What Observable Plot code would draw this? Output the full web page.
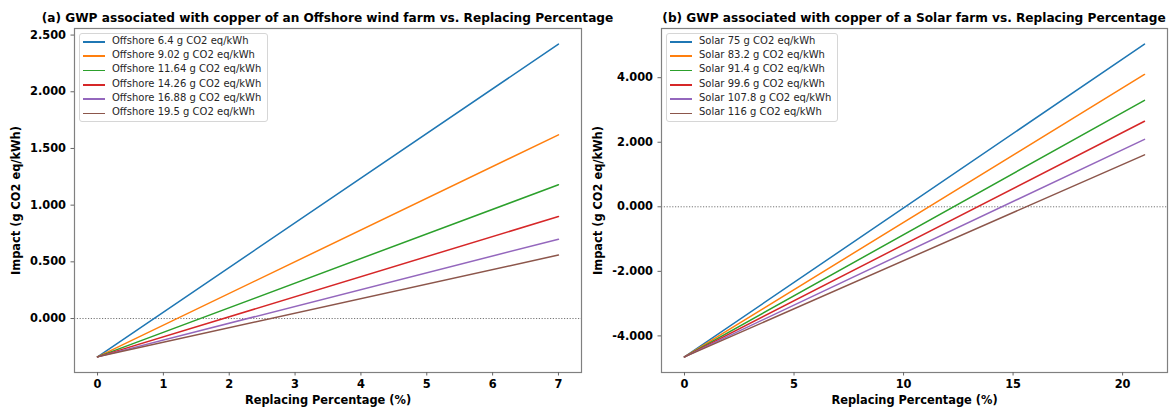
<!DOCTYPE html>
<html><head><meta charset="utf-8">
<script src="https://cdn.jsdelivr.net/npm/d3@7"></script>
<script src="https://cdn.jsdelivr.net/npm/@observablehq/plot@0.6"></script>
<style>
body{margin:0;background:#fff;font-family:"DejaVu Sans",sans-serif}
#wrap{position:relative;width:1172px;height:409px;overflow:hidden;background:#fff}
.panel{position:absolute;top:0}
.title{position:absolute;top:10px;font:bold 12.15px "DejaVu Sans",sans-serif;white-space:nowrap;transform:translateX(-50%);color:#000;line-height:17px}
.legend{position:absolute;top:33px;height:89px;border:1px solid #d6d6d6;border-radius:3px;background:rgba(255,255,255,0.85);box-sizing:border-box}
.row{position:absolute;left:0;height:14.3px;line-height:14.3px;font:10px "DejaVu Sans",sans-serif;color:#262626;white-space:nowrap}
.sw{position:absolute;top:6.5px;height:1.6px}
</style></head>
<body><div id="wrap"></div>
<script>
// ---- data ----
const tab10 = ["#1f77b4", "#ff7f0e", "#2ca02c", "#d62728", "#9467bd", "#8c564b"];
const offshoreLabels = ["Offshore 6.4 g CO2 eq/kWh", "Offshore 9.02 g CO2 eq/kWh", "Offshore 11.64 g CO2 eq/kWh",
  "Offshore 14.26 g CO2 eq/kWh", "Offshore 16.88 g CO2 eq/kWh", "Offshore 19.5 g CO2 eq/kWh"];
const offshoreX = [0, 7];
const offshoreStart = [-0.338, -0.338, -0.338, -0.338, -0.338, -0.338];
const offshoreEnd = [2.42, 1.62, 1.18, 0.90, 0.70, 0.56];
const offshoreYTicks = [0, 0.5, 1, 1.5, 2, 2.5];
const offshoreXTicks = [0, 1, 2, 3, 4, 5, 6, 7];

const solarLabels = ["Solar 75 g CO2 eq/kWh", "Solar 83.2 g CO2 eq/kWh", "Solar 91.4 g CO2 eq/kWh",
  "Solar 99.6 g CO2 eq/kWh", "Solar 107.8 g CO2 eq/kWh", "Solar 116 g CO2 eq/kWh"];
const solarX = [0, 21];
const solarStart = [-4.65, -4.65, -4.65, -4.65, -4.65, -4.65];
const solarEnd = [5.04, 4.10, 3.30, 2.65, 2.09, 1.61];
const solarYTicks = [-4, -2, 0, 2, 4];
const solarXTicks = [0, 5, 10, 15, 20];

const titleA = "(a) GWP associated with copper of an Offshore wind farm vs. Replacing Percentage";
const titleB = "(b) GWP associated with copper of a Solar farm vs. Replacing Percentage";
const xLabel = "Replacing Percentage (%)";
const yLabel = "Impact (g CO2 eq/kWh)";

function rowsOf(labels, xs, starts, ends) {
  const out = [];
  labels.forEach((s, i) => { out.push({series: s, x: xs[0], y: starts[i]}); out.push({series: s, x: xs[1], y: ends[i]}); });
  return out;
}

function panel({labels, xs, starts, ends, xTicks, yTicks, xDomain, yDomain, ml, yLabelDx}) {
  const f3 = d3.format(".3f");
  const fmt = d => f3(d).replace("\u2212", "-");
  return Plot.plot({
    width: 586, height: 409,
    marginLeft: ml, marginRight: 5, marginTop: 28, marginBottom: 37,
    x: {domain: xDomain},
    y: {domain: yDomain},
    color: {domain: labels, range: tab10},
    style: {fontFamily: "DejaVu Sans, sans-serif", fontSize: "11.4px", fontWeight: "bold", color: "#000", background: "transparent", overflow: "visible"},
    marks: [
      Plot.ruleY([0], {stroke: "#666", strokeWidth: 0.9, strokeDasharray: "1.2,1.6"}),
      Plot.line(rowsOf(labels, xs, starts, ends), {x: "x", y: "y", z: "series", stroke: "series", strokeWidth: 1.5}),
      Plot.frame({stroke: "#808080", strokeWidth: 1.2}),
      Plot.axisX({ticks: xTicks, tickFormat: d3.format("d"), tickSize: 3.5, tickPadding: 4, stroke: "#666", label: null}),
      Plot.axisY({ticks: yTicks, tickFormat: fmt, tickSize: 3.5, tickPadding: 5, stroke: "#666", label: null}),
      Plot.text([xLabel], {frameAnchor: "bottom", dy: 28, textAnchor: "middle", lineAnchor: "middle", fontWeight: "bold", fontSize: 11.4}),
      Plot.text([yLabel], {frameAnchor: "left", dx: yLabelDx, rotate: -90, textAnchor: "middle", lineAnchor: "middle", fontWeight: "bold", fontSize: 11.4})
    ]
  });
}

const wrap = document.getElementById("wrap");

const left = panel({labels: offshoreLabels, xs: offshoreX, starts: offshoreStart, ends: offshoreEnd,
  xTicks: offshoreXTicks, yTicks: offshoreYTicks, xDomain: [-0.35, 7.35], yDomain: [-0.476, 2.558], ml: 74, yLabelDx: -58});
left.classList.add("panel"); left.style.left = "0px";
wrap.appendChild(left);

const right = panel({labels: solarLabels, xs: solarX, starts: solarStart, ends: solarEnd,
  xTicks: solarXTicks, yTicks: solarYTicks, xDomain: [-1.05, 22.05], yDomain: [-5.134, 5.524], ml: 75, yLabelDx: -63});
right.classList.add("panel"); right.style.left = "586px";
wrap.appendChild(right);

function addTitle(text, cx) {
  const d = document.createElement("div");
  d.className = "title"; d.textContent = text; d.style.left = cx + "px";
  wrap.appendChild(d);
}
addTitle(titleA, 327.5);
addTitle(titleB, 914);

function addLegend(labels, x, w) {
  const box = document.createElement("div");
  box.className = "legend"; box.style.left = x + "px"; box.style.width = w + "px";
  labels.forEach((lab, i) => {
    const r = document.createElement("div");
    r.className = "row"; r.style.top = (0.6 + i * 14.3) + "px"; r.style.width = "100%";
    const sw = document.createElement("div");
    sw.className = "sw"; sw.style.left = "2.5px"; sw.style.width = "22px"; sw.style.background = tab10[i];
    const t = document.createElement("span");
    t.textContent = lab; t.style.position = "absolute"; t.style.left = "32px";
    r.appendChild(sw); r.appendChild(t); box.appendChild(r);
  });
  wrap.appendChild(box);
}
addLegend(offshoreLabels, 79, 189);
addLegend(solarLabels, 666, 172);
</script>
</body></html>
